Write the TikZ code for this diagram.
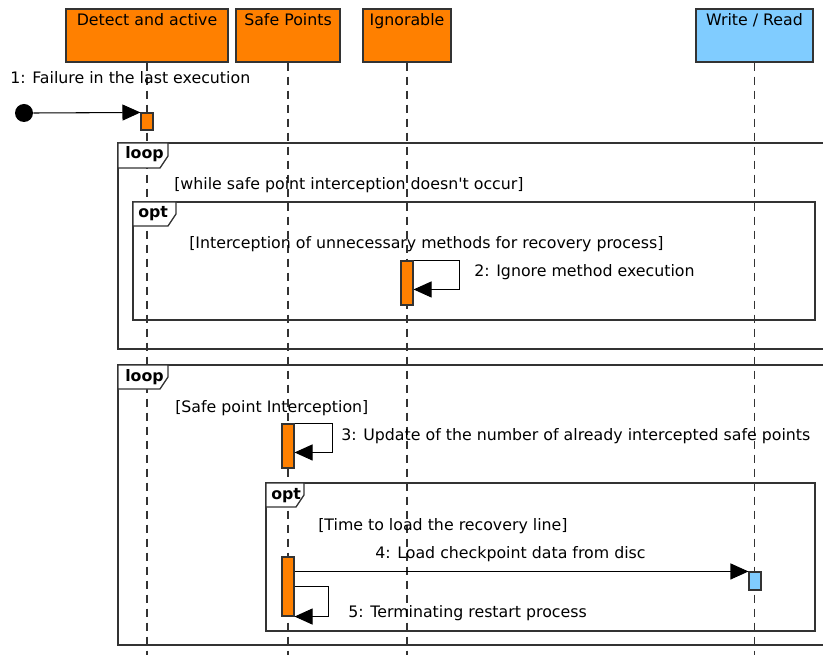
\documentclass[tikz,border=0pt]{standalone}
\usepackage{fontspec}
\setmainfont{DejaVu Sans}
\usetikzlibrary{arrows.meta,positioning,calc}
\definecolor{actorange}{RGB}{255,128,0}
\definecolor{actblue}{RGB}{128,204,255}
\definecolor{linegray}{RGB}{51,51,51}

\begin{document}
\begin{tikzpicture}[x=0.75pt, y=-0.75pt, >={Triangle[length=13.5pt,width=12pt]},
  font=\fontsize{11.85}{14.2}\selectfont,
  partbox/.style={draw=linegray, line width=0.9pt, minimum height=39.75pt, inner sep=0pt,
    label={[anchor=base, yshift=-12.75pt]north:#1}},
  lifeline/.style={draw=linegray, line width=0.85pt, dash pattern=on 6pt off 4.5pt},
  fragline/.style={draw=linegray, line width=0.95pt},
  fragtab/.style={anchor=base west, inner sep=0pt, font=\fontsize{11.85}{14.2}\selectfont\bfseries},
  txt/.style={anchor=base west, inner sep=0pt},
  act/.style={draw=linegray, line width=0.8pt, minimum width=9pt, inner sep=0pt},
  msg/.style={->, line width=0.8pt, black}]
  \useasboundingbox (0,0) rectangle (823,655);

  \node[partbox={Detect and active}, fill=actorange, minimum width=121.5pt] (det) at (147,35.5) {};
  \node[partbox={Safe Points}, fill=actorange, minimum width=78pt] (safe) at (288,35.5) {};
  \node[partbox={Ignorable}, fill=actorange, minimum width=66pt] (ign) at (407,35.5) {};
  \node[partbox={Write / Read}, fill=actblue, minimum width=87.75pt] (wr) at (754.5,35.5) {};

  \coordinate (bot) at (0,655);
  \foreach \p in {det,safe,ign,wr}
    \draw[lifeline] (\p.south) -- (\p.south |- bot);

  \draw[fragline] (823,143) -- (118,143) -- (118,349) -- (823,349);
  \draw[fragline] (133,202) rectangle (815,320);
  \draw[fragline] (823,365) -- (118,365) -- (118,645) -- (823,645);
  \draw[fragline] (266,483) rectangle (815,631);

  \draw[fragline, fill=white] (118,143) -- ++(50,0) -- ++(0,13) -- ++(-8,12) -- (118,168) -- cycle;
  \draw[fragline, fill=white] (133,202) -- ++(43,0) -- ++(0,12) -- ++(-8,12) -- (133,226) -- cycle;
  \draw[fragline, fill=white] (118,365) -- ++(50,0) -- ++(0,12) -- ++(-8,12) -- (118,389) -- cycle;
  \draw[fragline, fill=white] (266,483) -- ++(38,0) -- ++(0,12) -- ++(-8,12) -- (266,507) -- cycle;
  \node[fragtab] (loopA) at (125,159) {loop};
  \node[fragtab] (optA) at (138,218) {opt};
  \node[fragtab] (loopB) at (125,381) {loop};
  \node[fragtab] (optB) at (271,499) {opt};

  \node[txt] (g1) at (174,190) {[while safe point interception doesn\textquotesingle t occur]};
  \node[txt] (g2) at (189,249) {[Interception of unnecessary methods for recovery process]};
  \node[txt] (g3) at (175,412) {[Safe point Interception]};
  \node[txt] (g4) at (318,530) {[Time to load the recovery line]};

  \node[act, fill=actorange, minimum height=12.75pt] (det1) at (147,121.5) {};
  \node[act, fill=actorange, minimum height=33pt] (ign1) at (407,283) {};
  \node[act, fill=actorange, minimum height=33pt] (safe1) at (288,446) {};
  \node[act, fill=actorange, minimum height=44.25pt] (safe2) at (288,586.5) {};
  \node[act, fill=actblue, minimum height=13.5pt] (wr1) at (755,581) {};

  \node[circle, fill=black, minimum size=13.5pt, inner sep=0pt] (start) at (24,113) {};
  \draw[msg] (start.east) -- (det1.north west);
  \node[txt] (m1) at (10,84) {1: Failure in the last execution};

  \draw[msg] (ign1.north east) -- ++(46,0) -- ++(0,29) -- ++(-46,0);
  \node[txt] (m2) at (474,277) {2: Ignore method execution};

  \draw[msg] (safe1.north east) -- ++(38,0) -- ++(0,29) -- ++(-38,0);
  \node[txt] (m3) at (341,440) {3: Update of the number of already intercepted safe points};

  \draw[msg] (safe2.east |- wr1.north) -- (wr1.north west);
  \node[txt] (m4) at (375,558) {4: Load checkpoint data from disc};

  \draw[msg] ([yshift=-22.5pt]safe2.north east) -- ++(34,0) |- (safe2.south east);
  \node[txt] (m5) at (348,617) {5: Terminating restart process};
\end{tikzpicture}
\end{document}
